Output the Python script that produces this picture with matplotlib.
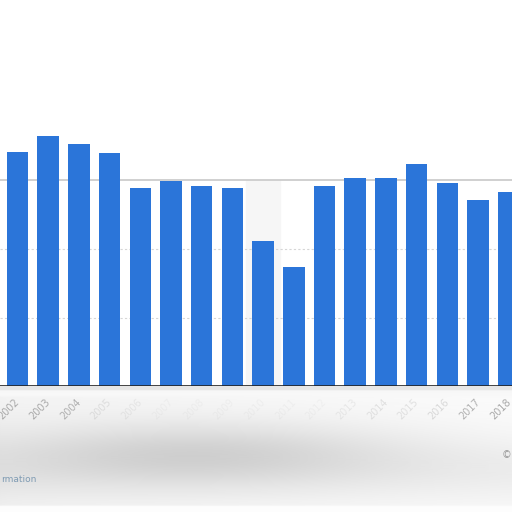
import numpy as np
import matplotlib
matplotlib.use("Agg")
import matplotlib.pyplot as plt
import matplotlib.transforms as mtransforms

# values (gridlines assumed at 10, 20, 30)
years = [str(y) for y in range(2002, 2019)]
values = [34.2, 36.5, 35.3, 34.0, 28.9, 29.9, 29.2, 28.9, 21.2, 17.4,
          29.2, 30.4, 30.4, 32.4, 29.6, 27.2, 28.3]
grid_levels = [10, 20, 30]

W = H = 512
fig = plt.figure(figsize=(W / 100, H / 100), dpi=100)
fig.patch.set_facecolor("white")

# greyish blurred footer below the plot area
footer = fig.add_axes([0, 0, 1, 126 / H])
footer.set_axis_off()
yy, xx = np.mgrid[0:120, 0:512]
shade = 0.95 + 0.03 * np.clip(xx / 512, 0, 1) ** 0.5
shade -= 0.12 * np.exp(-((yy - 62) / 30.0) ** 2) * np.exp(-((xx - 200) / 200.0) ** 2)
shade -= 0.05 * np.exp(-((yy - 80) / 30.0) ** 2)
shade[:4] = 0.9
shade[4:10] = 0.97
shade[-6:] = 0.99
footer.imshow(shade, cmap="gray", vmin=0, vmax=1, aspect="auto",
              extent=[0, 1, 0, 1], interpolation="bicubic")
footer.set_xlim(0, 1)
footer.set_ylim(0, 1)

ax = fig.add_axes([0, 126 / H, 1, 386 / H])
x = np.arange(len(years))
pitch = 30.7
ax.set_xlim(-17.5 / pitch, (W - 17.5) / pitch)
ax.set_ylim(0, 386 / 6.85)

# faint column shading seen around 2010
ax.axvspan(7.45, 8.55, ymin=0, ymax=0.53, color="#f6f6f6", zorder=0)

for g in grid_levels:
    if g == 30:
        ax.axhline(g, color="#c8c8c8", lw=1.2, zorder=1)
    else:
        ax.axhline(g, color="#d6d6d6", lw=0.8, ls=(0, (2, 2)), zorder=1)

ax.bar(x, values, width=0.70, color="#2b75d9", zorder=3)
ax.axhline(0, color="#222222", lw=1.2, zorder=4)

ax.set_xticks(x)
ax.set_xticklabels(years, rotation=45, ha="right", va="top",
                   fontsize=7, color="#a8a8a8")
ax.tick_params(axis="x", length=0, pad=8)
shift = mtransforms.ScaledTranslation(4 / 100, 0, fig.dpi_scale_trans)
faint = [1, 1, 0.9, 0.3, 0.2, 0.1, 0.1, 0.1, 0.1, 0.1, 0.1, 0.2, 0.3, 0.3, 0.4, 0.9, 1]
for lab, a in zip(ax.get_xticklabels(), faint):
    lab.set_transform(lab.get_transform() + shift)
    lab.set_alpha(a)
ax.set_yticks([])
for s in ax.spines.values():
    s.set_visible(False)
ax.patch.set_alpha(0)

fig.text(1 / W, 1 - 479 / H, "rmation", fontsize=6.5, color="#7f9bb3",
         ha="left", va="center")
fig.text(511 / W, 1 - 455 / H, "\u00a9", fontsize=7, color="#9a9a9a",
         ha="right", va="center")

fig.savefig("out.png", dpi=100)
